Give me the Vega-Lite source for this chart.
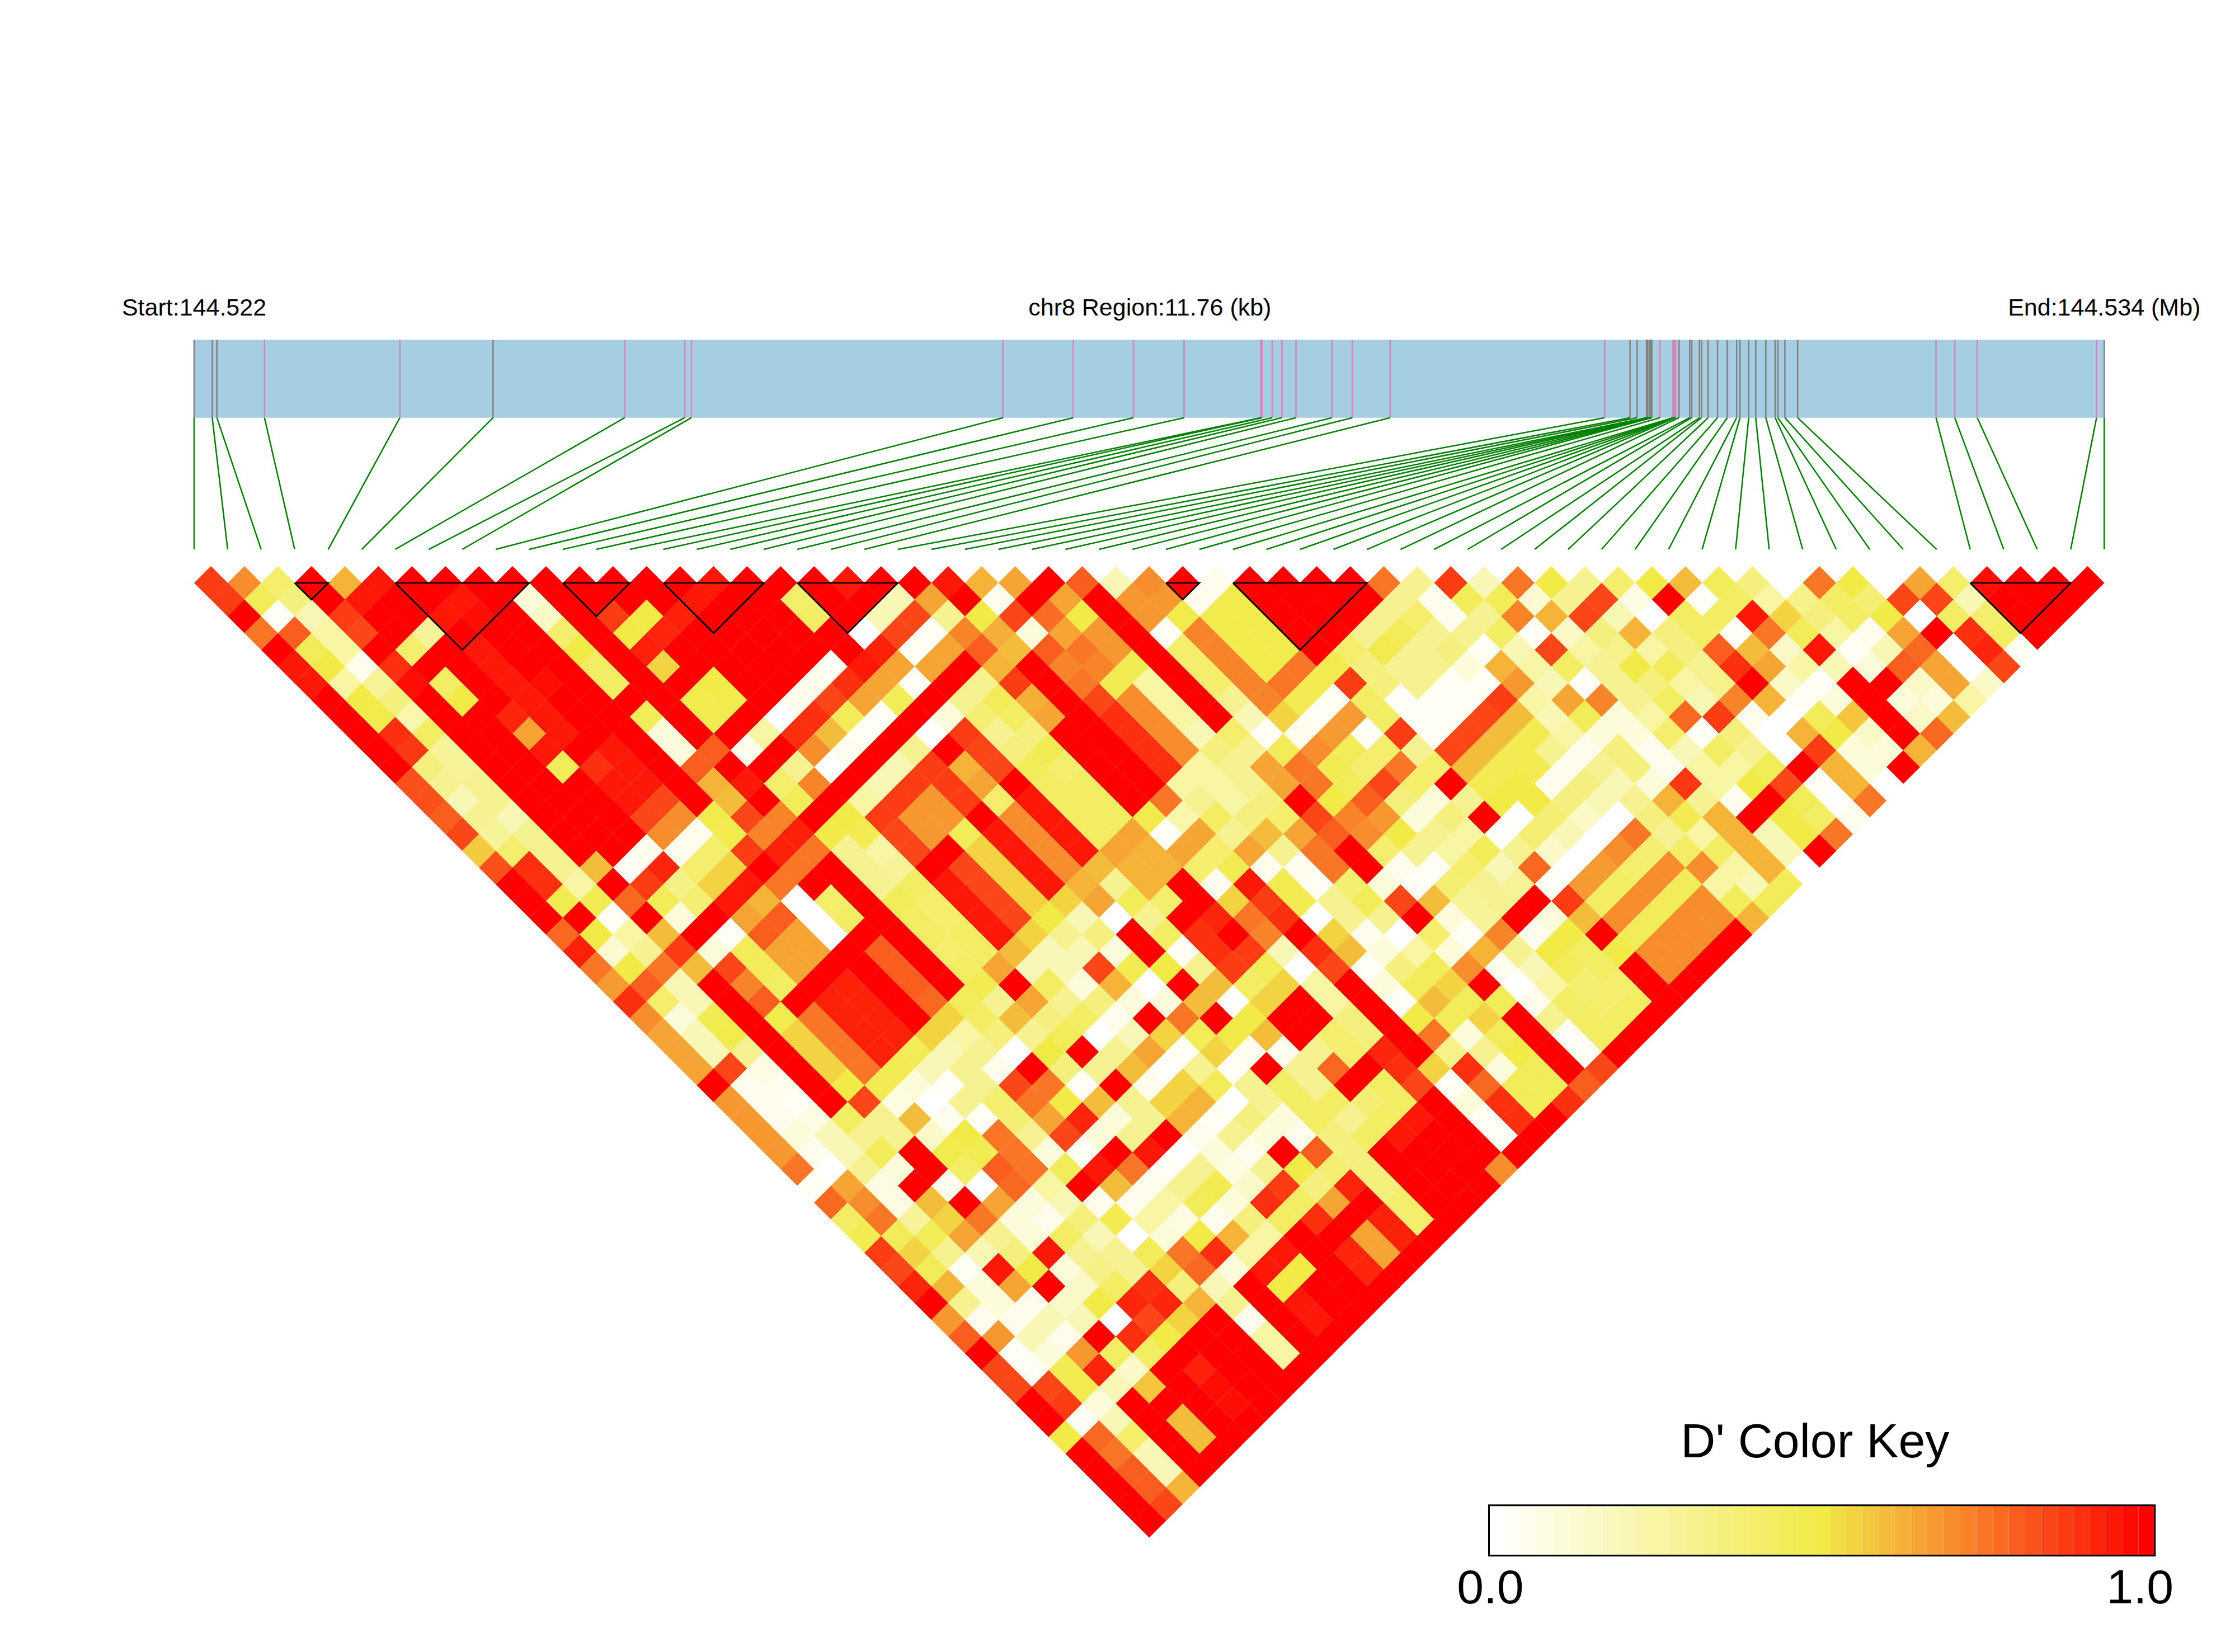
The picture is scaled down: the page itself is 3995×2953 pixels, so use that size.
{"$schema":"https://vega.github.io/schema/vega-lite/v6.json","width":3995,"height":2953,"autosize":{"type":"fit","contains":"padding"},"padding":0,"background":"white","view":{"stroke":null},
"datasets":{
"strip":[{"a":0,"b":57}],
"snps":[{"k":0,"p":0,"t":"g"},{"k":1,"p":0.54,"t":"g"},{"k":2,"p":0.68,"t":"g"},{"k":3,"p":2.1,"t":"p"},{"k":4,"p":6.14,"t":"p"},{"k":5,"p":8.92,"t":"g"},{"k":6,"p":12.85,"t":"p"},{"k":7,"p":14.64,"t":"p"},{"k":8,"p":14.84,"t":"p"},{"k":9,"p":24.14,"t":"p"},{"k":10,"p":26.23,"t":"p"},{"k":11,"p":28.03,"t":"p"},{"k":12,"p":29.54,"t":"p"},{"k":13,"p":31.83,"t":"p"},{"k":14,"p":31.87,"t":"p"},{"k":15,"p":32.17,"t":"p"},{"k":16,"p":32.46,"t":"p"},{"k":17,"p":32.88,"t":"p"},{"k":18,"p":33.95,"t":"p"},{"k":19,"p":34.56,"t":"p"},{"k":20,"p":35.69,"t":"p"},{"k":21,"p":42.09,"t":"p"},{"k":22,"p":42.85,"t":"g"},{"k":23,"p":43.06,"t":"g"},{"k":24,"p":43.34,"t":"g"},{"k":25,"p":43.36,"t":"g"},{"k":26,"p":43.38,"t":"g"},{"k":27,"p":43.44,"t":"g"},{"k":28,"p":43.48,"t":"g"},{"k":29,"p":43.5,"t":"g"},{"k":30,"p":43.74,"t":"p"},{"k":31,"p":44.13,"t":"p"},{"k":32,"p":44.15,"t":"p"},{"k":33,"p":44.17,"t":"p"},{"k":34,"p":44.19,"t":"p"},{"k":35,"p":44.21,"t":"p"},{"k":36,"p":44.31,"t":"g"},{"k":37,"p":44.63,"t":"g"},{"k":38,"p":44.69,"t":"g"},{"k":39,"p":44.92,"t":"g"},{"k":40,"p":44.98,"t":"g"},{"k":41,"p":45.18,"t":"g"},{"k":42,"p":45.46,"t":"g"},{"k":43,"p":45.75,"t":"g"},{"k":44,"p":46.03,"t":"g"},{"k":45,"p":46.13,"t":"g"},{"k":46,"p":46.39,"t":"g"},{"k":47,"p":46.6,"t":"g"},{"k":48,"p":46.9,"t":"g"},{"k":49,"p":47.18,"t":"g"},{"k":50,"p":47.26,"t":"g"},{"k":51,"p":47.47,"t":"g"},{"k":52,"p":47.85,"t":"g"},{"k":53,"p":51.98,"t":"p"},{"k":54,"p":52.54,"t":"p"},{"k":55,"p":53.21,"t":"p"},{"k":56,"p":56.77,"t":"p"},{"k":57,"p":57,"t":"g"}],
"blocks":[{"b":1,"o":1,"x":3,"y":1},{"b":1,"o":2,"x":4,"y":1},{"b":1,"o":3,"x":3.5,"y":2},{"b":1,"o":4,"x":3,"y":1},{"b":2,"o":1,"x":6,"y":1},{"b":2,"o":2,"x":10,"y":1},{"b":2,"o":3,"x":8,"y":5},{"b":2,"o":4,"x":6,"y":1},{"b":3,"o":1,"x":11,"y":1},{"b":3,"o":2,"x":13,"y":1},{"b":3,"o":3,"x":12,"y":3},{"b":3,"o":4,"x":11,"y":1},{"b":4,"o":1,"x":14,"y":1},{"b":4,"o":2,"x":17,"y":1},{"b":4,"o":3,"x":15.5,"y":4},{"b":4,"o":4,"x":14,"y":1},{"b":5,"o":1,"x":18,"y":1},{"b":5,"o":2,"x":21,"y":1},{"b":5,"o":3,"x":19.5,"y":4},{"b":5,"o":4,"x":18,"y":1},{"b":6,"o":1,"x":29,"y":1},{"b":6,"o":2,"x":30,"y":1},{"b":6,"o":3,"x":29.5,"y":2},{"b":6,"o":4,"x":29,"y":1},{"b":7,"o":1,"x":31,"y":1},{"b":7,"o":2,"x":35,"y":1},{"b":7,"o":3,"x":33,"y":5},{"b":7,"o":4,"x":31,"y":1},{"b":8,"o":1,"x":53,"y":1},{"b":8,"o":2,"x":56,"y":1},{"b":8,"o":3,"x":54.5,"y":4},{"b":8,"o":4,"x":53,"y":1}],
"key":[{"a":38.64,"b":39.12,"d":0},{"a":39.12,"b":39.61,"d":0.025},{"a":39.61,"b":40.09,"d":0.05},{"a":40.09,"b":40.58,"d":0.075},{"a":40.58,"b":41.06,"d":0.1},{"a":41.06,"b":41.55,"d":0.125},{"a":41.55,"b":42.03,"d":0.15},{"a":42.03,"b":42.52,"d":0.175},{"a":42.52,"b":43,"d":0.2},{"a":43,"b":43.49,"d":0.225},{"a":43.49,"b":43.97,"d":0.25},{"a":43.97,"b":44.45,"d":0.275},{"a":44.45,"b":44.94,"d":0.3},{"a":44.94,"b":45.42,"d":0.325},{"a":45.42,"b":45.91,"d":0.35},{"a":45.91,"b":46.39,"d":0.375},{"a":46.39,"b":46.88,"d":0.4},{"a":46.88,"b":47.36,"d":0.425},{"a":47.36,"b":47.85,"d":0.45},{"a":47.85,"b":48.33,"d":0.475},{"a":48.33,"b":48.82,"d":0.5},{"a":48.82,"b":49.3,"d":0.525},{"a":49.3,"b":49.78,"d":0.55},{"a":49.78,"b":50.27,"d":0.575},{"a":50.27,"b":50.75,"d":0.6},{"a":50.75,"b":51.24,"d":0.625},{"a":51.24,"b":51.72,"d":0.65},{"a":51.72,"b":52.21,"d":0.675},{"a":52.21,"b":52.69,"d":0.7},{"a":52.69,"b":53.18,"d":0.725},{"a":53.18,"b":53.66,"d":0.75},{"a":53.66,"b":54.15,"d":0.775},{"a":54.15,"b":54.63,"d":0.8},{"a":54.63,"b":55.12,"d":0.825},{"a":55.12,"b":55.6,"d":0.85},{"a":55.6,"b":56.08,"d":0.875},{"a":56.08,"b":56.57,"d":0.9},{"a":56.57,"b":57.05,"d":0.925},{"a":57.05,"b":57.54,"d":0.95},{"a":57.54,"b":58.02,"d":0.975},{"a":58.02,"b":58.51,"d":1}],
"small":[{"x":0,"y":-14.97,"t":"Start:144.522"},{"x":28.52,"y":-14.97,"t":"chr8 Region:11.76 (kb)"},{"x":57,"y":-14.97,"t":"End:144.534 (Mb)"}],
"big":[{"x":48.37,"y":53.2,"t":"D' Color Key"},{"x":38.68,"y":61.92,"t":"0.0"},{"x":58.07,"y":61.92,"t":"1.0"}],
"cells":[
{"m":0.5,"l":1,"d":0.87},{"m":1.5,"l":1,"d":0.7},{"m":2.5,"l":1,"d":0.4},{"m":3.5,"l":1,"d":1},{"m":4.5,"l":1,"d":0.62},{"m":5.5,"l":1,"d":0.95},{"m":6.5,"l":1,"d":1},{"m":7.5,"l":1,"d":1},{"m":8.5,"l":1,"d":1},{"m":9.5,"l":1,"d":1},{"m":10.5,"l":1,"d":1},{"m":11.5,"l":1,"d":1},{"m":12.5,"l":1,"d":1},{"m":13.5,"l":1,"d":1},{"m":14.5,"l":1,"d":1},{"m":15.5,"l":1,"d":0.95},{"m":16.5,"l":1,"d":1},{"m":17.5,"l":1,"d":1},{"m":18.5,"l":1,"d":1},{"m":19.5,"l":1,"d":0.95},{"m":20.5,"l":1,"d":1},{"m":21.5,"l":1,"d":1},{"m":22.5,"l":1,"d":0.95},{"m":23.5,"l":1,"d":0.62},{"m":24.5,"l":1,"d":0.65},{"m":25.5,"l":1,"d":1},{"m":26.5,"l":1,"d":0.8},{"m":27.5,"l":1,"d":0.2},{"m":28.5,"l":1,"d":0.7},{"m":29.5,"l":1,"d":1},{"m":30.5,"l":1,"d":0.05},{"m":31.5,"l":1,"d":1},{"m":32.5,"l":1,"d":1},{"m":33.5,"l":1,"d":1},{"m":34.5,"l":1,"d":1},{"m":35.5,"l":1,"d":0.75},{"m":36.5,"l":1,"d":0.3},{"m":37.5,"l":1,"d":0.87},{"m":38.5,"l":1,"d":0.2},{"m":39.5,"l":1,"d":0.75},{"m":40.5,"l":1,"d":0.5},{"m":41.5,"l":1,"d":0.3},{"m":42.5,"l":1,"d":0.4},{"m":43.5,"l":1,"d":0.5},{"m":44.5,"l":1,"d":0.6},{"m":45.5,"l":1,"d":0.45},{"m":46.5,"l":1,"d":0.35},{"m":47.5,"l":1,"d":0},{"m":48.5,"l":1,"d":0.75},{"m":49.5,"l":1,"d":0.5},{"m":50.5,"l":1,"d":0},{"m":51.5,"l":1,"d":0.65},{"m":52.5,"l":1,"d":0.4},{"m":53.5,"l":1,"d":0.97},{"m":54.5,"l":1,"d":1},{"m":55.5,"l":1,"d":1},{"m":56.5,"l":1,"d":1},
{"m":1,"l":2,"d":0.87},{"m":2,"l":2,"d":0.45},{"m":3,"l":2,"d":0.35},{"m":4,"l":2,"d":1},{"m":5,"l":2,"d":0.95},{"m":6,"l":2,"d":1},{"m":7,"l":2,"d":1},{"m":8,"l":2,"d":0.95},{"m":9,"l":2,"d":1},{"m":10,"l":2,"d":0.1},{"m":11,"l":2,"d":1},{"m":12,"l":2,"d":1},{"m":13,"l":2,"d":1},{"m":14,"l":2,"d":1},{"m":15,"l":2,"d":0.95},{"m":16,"l":2,"d":1},{"m":17,"l":2,"d":1},{"m":18,"l":2,"d":0.4},{"m":19,"l":2,"d":1},{"m":20,"l":2,"d":1},{"m":21,"l":2,"d":0.2},{"m":22,"l":2,"d":0.65},{"m":23,"l":2,"d":1},{"m":24,"l":2,"d":0.05},{"m":25,"l":2,"d":1},{"m":26,"l":2,"d":0.65},{"m":27,"l":2,"d":1},{"m":28,"l":2,"d":0.68},{"m":29,"l":2,"d":0.68},{"m":30,"l":2,"d":0.05},{"m":31,"l":2,"d":0.48},{"m":32,"l":2,"d":1},{"m":33,"l":2,"d":1},{"m":34,"l":2,"d":1},{"m":35,"l":2,"d":1},{"m":36,"l":2,"d":0.3},{"m":37,"l":2,"d":0.05},{"m":38,"l":2,"d":0.45},{"m":39,"l":2,"d":0.45},{"m":40,"l":2,"d":0.12},{"m":41,"l":2,"d":0.3},{"m":42,"l":2,"d":0.85},{"m":43,"l":2,"d":0.08},{"m":44,"l":2,"d":1},{"m":45,"l":2,"d":0.03},{"m":46,"l":2,"d":0.42},{"m":47,"l":2,"d":0.25},{"m":48,"l":2,"d":0.32},{"m":49,"l":2,"d":0.42},{"m":50,"l":2,"d":0.38},{"m":51,"l":2,"d":0.85},{"m":52,"l":2,"d":0.85},{"m":53,"l":2,"d":0.2},{"m":54,"l":2,"d":1},{"m":55,"l":2,"d":1},{"m":56,"l":2,"d":1},
{"m":1.5,"l":3,"d":1},{"m":2.5,"l":3,"d":0.03},{"m":3.5,"l":3,"d":0.2},{"m":4.5,"l":3,"d":0.87},{"m":5.5,"l":3,"d":1},{"m":6.5,"l":3,"d":1},{"m":7.5,"l":3,"d":0.95},{"m":8.5,"l":3,"d":0.97},{"m":9.5,"l":3,"d":1},{"m":10.5,"l":3,"d":0.15},{"m":11.5,"l":3,"d":1},{"m":12.5,"l":3,"d":0.87},{"m":13.5,"l":3,"d":0.5},{"m":14.5,"l":3,"d":0.93},{"m":15.5,"l":3,"d":1},{"m":16.5,"l":3,"d":1},{"m":17.5,"l":3,"d":1},{"m":18.5,"l":3,"d":0.42},{"m":19.5,"l":3,"d":1},{"m":20.5,"l":3,"d":0.2},{"m":21.5,"l":3,"d":0.85},{"m":22.5,"l":3,"d":0.3},{"m":23.5,"l":3,"d":0.5},{"m":24.5,"l":3,"d":0.85},{"m":25.5,"l":3,"d":0.77},{"m":26.5,"l":3,"d":0.5},{"m":27.5,"l":3,"d":1},{"m":28.5,"l":3,"d":0.68},{"m":29.5,"l":3,"d":0.48},{"m":30.5,"l":3,"d":0.48},{"m":31.5,"l":3,"d":0.48},{"m":32.5,"l":3,"d":1},{"m":33.5,"l":3,"d":1},{"m":34.5,"l":3,"d":1},{"m":35.5,"l":3,"d":0.3},{"m":36.5,"l":3,"d":0.4},{"m":37.5,"l":3,"d":0.05},{"m":38.5,"l":3,"d":0.3},{"m":39.5,"l":3,"d":0.72},{"m":40.5,"l":3,"d":0.62},{"m":41.5,"l":3,"d":0.85},{"m":42.5,"l":3,"d":0.2},{"m":43.5,"l":3,"d":0},{"m":44.5,"l":3,"d":0.42},{"m":45.5,"l":3,"d":0.42},{"m":46.5,"l":3,"d":0.95},{"m":47.5,"l":3,"d":0.55},{"m":48.5,"l":3,"d":0.35},{"m":49.5,"l":3,"d":0.42},{"m":50.5,"l":3,"d":0.5},{"m":51.5,"l":3,"d":0},{"m":52.5,"l":3,"d":0.42},{"m":53.5,"l":3,"d":0.4},{"m":54.5,"l":3,"d":1},{"m":55.5,"l":3,"d":1},
{"m":2,"l":4,"d":0.75},{"m":3,"l":4,"d":0.8},{"m":4,"l":4,"d":0.25},{"m":5,"l":4,"d":0.85},{"m":6,"l":4,"d":1},{"m":7,"l":4,"d":0.28},{"m":8,"l":4,"d":1},{"m":9,"l":4,"d":1},{"m":10,"l":4,"d":1},{"m":11,"l":4,"d":0.4},{"m":12,"l":4,"d":1},{"m":13,"l":4,"d":0.5},{"m":14,"l":4,"d":0.92},{"m":15,"l":4,"d":1},{"m":16,"l":4,"d":1},{"m":17,"l":4,"d":1},{"m":18,"l":4,"d":1},{"m":19,"l":4,"d":1},{"m":20,"l":4,"d":0},{"m":21,"l":4,"d":0.85},{"m":22,"l":4,"d":0.03},{"m":23,"l":4,"d":0.72},{"m":24,"l":4,"d":0.63},{"m":25,"l":4,"d":0.1},{"m":26,"l":4,"d":0.65},{"m":27,"l":4,"d":0.68},{"m":28,"l":4,"d":1},{"m":29,"l":4,"d":0.03},{"m":30,"l":4,"d":0.72},{"m":31,"l":4,"d":0.48},{"m":32,"l":4,"d":0.48},{"m":33,"l":4,"d":1},{"m":34,"l":4,"d":1},{"m":35,"l":4,"d":0.3},{"m":36,"l":4,"d":0.45},{"m":37,"l":4,"d":0.3},{"m":38,"l":4,"d":0.3},{"m":39,"l":4,"d":0.42},{"m":40,"l":4,"d":0.03},{"m":41,"l":4,"d":0.15},{"m":42,"l":4,"d":0.35},{"m":43,"l":4,"d":0.62},{"m":44,"l":4,"d":0.35},{"m":45,"l":4,"d":0.42},{"m":46,"l":4,"d":0.03},{"m":47,"l":4,"d":0.75},{"m":48,"l":4,"d":0.45},{"m":49,"l":4,"d":0.25},{"m":50,"l":4,"d":0.05},{"m":51,"l":4,"d":0.65},{"m":52,"l":4,"d":1},{"m":53,"l":4,"d":0.9},{"m":54,"l":4,"d":0.42},{"m":55,"l":4,"d":1},
{"m":2.5,"l":5,"d":1},{"m":3.5,"l":5,"d":0.45},{"m":4.5,"l":5,"d":0.25},{"m":5.5,"l":5,"d":1},{"m":6.5,"l":5,"d":0.4},{"m":7.5,"l":5,"d":1},{"m":8.5,"l":5,"d":0.95},{"m":9.5,"l":5,"d":1},{"m":10.5,"l":5,"d":1},{"m":11.5,"l":5,"d":0.5},{"m":12.5,"l":5,"d":1},{"m":13.5,"l":5,"d":0.93},{"m":14.5,"l":5,"d":1},{"m":15.5,"l":5,"d":1},{"m":16.5,"l":5,"d":1},{"m":17.5,"l":5,"d":1},{"m":18.5,"l":5,"d":1},{"m":19.5,"l":5,"d":1},{"m":20.5,"l":5,"d":0.93},{"m":21.5,"l":5,"d":0.03},{"m":22.5,"l":5,"d":0.65},{"m":23.5,"l":5,"d":0.8},{"m":24.5,"l":5,"d":0.6},{"m":25.5,"l":5,"d":0.8},{"m":26.5,"l":5,"d":0.75},{"m":27.5,"l":5,"d":0.68},{"m":28.5,"l":5,"d":1},{"m":29.5,"l":5,"d":0.4},{"m":30.5,"l":5,"d":0.72},{"m":31.5,"l":5,"d":0.48},{"m":32.5,"l":5,"d":0.48},{"m":33.5,"l":5,"d":1},{"m":34.5,"l":5,"d":0.4},{"m":35.5,"l":5,"d":0.48},{"m":36.5,"l":5,"d":0.3},{"m":37.5,"l":5,"d":0.35},{"m":38.5,"l":5,"d":0.03},{"m":39.5,"l":5,"d":0.2},{"m":40.5,"l":5,"d":0.85},{"m":41.5,"l":5,"d":0.25},{"m":42.5,"l":5,"d":0.32},{"m":43.5,"l":5,"d":0.25},{"m":44.5,"l":5,"d":0.35},{"m":45.5,"l":5,"d":0.8},{"m":46.5,"l":5,"d":0.6},{"m":47.5,"l":5,"d":0.15},{"m":48.5,"l":5,"d":0.95},{"m":49.5,"l":5,"d":0.03},{"m":50.5,"l":5,"d":0.2},{"m":51.5,"l":5,"d":0.78},{"m":52.5,"l":5,"d":0},{"m":53.5,"l":5,"d":0.92},{"m":54.5,"l":5,"d":0.03},
{"m":3,"l":6,"d":0.95},{"m":4,"l":6,"d":0.5},{"m":5,"l":6,"d":0.05},{"m":6,"l":6,"d":0.9},{"m":7,"l":6,"d":1},{"m":8,"l":6,"d":1},{"m":9,"l":6,"d":0.95},{"m":10,"l":6,"d":1},{"m":11,"l":6,"d":1},{"m":12,"l":6,"d":0.42},{"m":13,"l":6,"d":1},{"m":14,"l":6,"d":0.55},{"m":15,"l":6,"d":1},{"m":16,"l":6,"d":1},{"m":17,"l":6,"d":1},{"m":18,"l":6,"d":1},{"m":19,"l":6,"d":0.03},{"m":20,"l":6,"d":0.95},{"m":21,"l":6,"d":0.65},{"m":22,"l":6,"d":0.65},{"m":23,"l":6,"d":1},{"m":24,"l":6,"d":0.62},{"m":25,"l":6,"d":1},{"m":26,"l":6,"d":0.72},{"m":27,"l":6,"d":0.72},{"m":28,"l":6,"d":0.47},{"m":29,"l":6,"d":1},{"m":30,"l":6,"d":0.4},{"m":31,"l":6,"d":0.72},{"m":32,"l":6,"d":0.48},{"m":33,"l":6,"d":0.75},{"m":34,"l":6,"d":0.48},{"m":35,"l":6,"d":0.35},{"m":36,"l":6,"d":0.3},{"m":37,"l":6,"d":0.3},{"m":38,"l":6,"d":0.1},{"m":39,"l":6,"d":0.62},{"m":40,"l":6,"d":0.25},{"m":41,"l":6,"d":0.42},{"m":42,"l":6,"d":0.3},{"m":43,"l":6,"d":0.5},{"m":44,"l":6,"d":0.45},{"m":45,"l":6,"d":0.3},{"m":46,"l":6,"d":0.9},{"m":47,"l":6,"d":0.65},{"m":48,"l":6,"d":0.25},{"m":49,"l":6,"d":0.2},{"m":50,"l":6,"d":0.1},{"m":51,"l":6,"d":0.8},{"m":52,"l":6,"d":0.65},{"m":53,"l":6,"d":0},{"m":54,"l":6,"d":0.85},
{"m":3.5,"l":7,"d":0.95},{"m":4.5,"l":7,"d":0.25},{"m":5.5,"l":7,"d":0.28},{"m":6.5,"l":7,"d":0.97},{"m":7.5,"l":7,"d":0.42},{"m":8.5,"l":7,"d":1},{"m":9.5,"l":7,"d":0.95},{"m":10.5,"l":7,"d":0.97},{"m":11.5,"l":7,"d":1},{"m":12.5,"l":7,"d":0.42},{"m":13.5,"l":7,"d":1},{"m":14.5,"l":7,"d":1},{"m":15.5,"l":7,"d":0.5},{"m":16.5,"l":7,"d":1},{"m":17.5,"l":7,"d":1},{"m":18.5,"l":7,"d":0.05},{"m":19.5,"l":7,"d":0.9},{"m":20.5,"l":7,"d":0.65},{"m":21.5,"l":7,"d":0.03},{"m":22.5,"l":7,"d":1},{"m":23.5,"l":7,"d":0.3},{"m":24.5,"l":7,"d":0.87},{"m":25.5,"l":7,"d":1},{"m":26.5,"l":7,"d":0.75},{"m":27.5,"l":7,"d":0.47},{"m":28.5,"l":7,"d":0.25},{"m":29.5,"l":7,"d":1},{"m":30.5,"l":7,"d":0.4},{"m":31.5,"l":7,"d":0.72},{"m":32.5,"l":7,"d":0.75},{"m":33.5,"l":7,"d":0.47},{"m":34.5,"l":7,"d":0.87},{"m":35.5,"l":7,"d":0.35},{"m":36.5,"l":7,"d":0.3},{"m":37.5,"l":7,"d":0.03},{"m":38.5,"l":7,"d":0.03},{"m":39.5,"l":7,"d":0.68},{"m":40.5,"l":7,"d":0.2},{"m":41.5,"l":7,"d":0.03},{"m":42.5,"l":7,"d":0.3},{"m":43.5,"l":7,"d":0.35},{"m":44.5,"l":7,"d":0.25},{"m":45.5,"l":7,"d":0.32},{"m":46.5,"l":7,"d":1},{"m":47.5,"l":7,"d":0.15},{"m":48.5,"l":7,"d":0.03},{"m":49.5,"l":7,"d":1},{"m":50.5,"l":7,"d":1},{"m":51.5,"l":7,"d":0.15},{"m":52.5,"l":7,"d":0.65},{"m":53.5,"l":7,"d":0.15},
{"m":4,"l":8,"d":1},{"m":5,"l":8,"d":0.5},{"m":6,"l":8,"d":0.35},{"m":7,"l":8,"d":1},{"m":8,"l":8,"d":0.5},{"m":9,"l":8,"d":1},{"m":10,"l":8,"d":0.95},{"m":11,"l":8,"d":1},{"m":12,"l":8,"d":1},{"m":13,"l":8,"d":1},{"m":14,"l":8,"d":1},{"m":15,"l":8,"d":0.48},{"m":16,"l":8,"d":0.48},{"m":17,"l":8,"d":1},{"m":18,"l":8,"d":0.05},{"m":19,"l":8,"d":0.85},{"m":20,"l":8,"d":0.65},{"m":21,"l":8,"d":0.45},{"m":22,"l":8,"d":1},{"m":23,"l":8,"d":0.3},{"m":24,"l":8,"d":0.45},{"m":25,"l":8,"d":0.63},{"m":26,"l":8,"d":1},{"m":27,"l":8,"d":0.85},{"m":28,"l":8,"d":0.7},{"m":29,"l":8,"d":0.25},{"m":30,"l":8,"d":1},{"m":31,"l":8,"d":0.3},{"m":32,"l":8,"d":0.72},{"m":33,"l":8,"d":0.47},{"m":34,"l":8,"d":0.03},{"m":35,"l":8,"d":0.42},{"m":36,"l":8,"d":0.03},{"m":37,"l":8,"d":0.03},{"m":38,"l":8,"d":0.03},{"m":39,"l":8,"d":0.87},{"m":40,"l":8,"d":0.25},{"m":41,"l":8,"d":0.65},{"m":42,"l":8,"d":0.72},{"m":43,"l":8,"d":0.3},{"m":44,"l":8,"d":0.42},{"m":45,"l":8,"d":0.2},{"m":46,"l":8,"d":0.72},{"m":47,"l":8,"d":0.62},{"m":48,"l":8,"d":0.03},{"m":49,"l":8,"d":0.1},{"m":50,"l":8,"d":1},{"m":51,"l":8,"d":0.1},{"m":52,"l":8,"d":0.1},{"m":53,"l":8,"d":0.25},
{"m":4.5,"l":9,"d":1},{"m":5.5,"l":9,"d":0.48},{"m":6.5,"l":9,"d":0.22},{"m":7.5,"l":9,"d":1},{"m":8.5,"l":9,"d":1},{"m":9.5,"l":9,"d":0.92},{"m":10.5,"l":9,"d":0.95},{"m":11.5,"l":9,"d":1},{"m":12.5,"l":9,"d":1},{"m":13.5,"l":9,"d":0.45},{"m":14.5,"l":9,"d":1},{"m":15.5,"l":9,"d":0.47},{"m":16.5,"l":9,"d":1},{"m":17.5,"l":9,"d":0},{"m":18.5,"l":9,"d":0.9},{"m":19.5,"l":9,"d":0.45},{"m":20.5,"l":9,"d":0.03},{"m":21.5,"l":9,"d":1},{"m":22.5,"l":9,"d":0.1},{"m":23.5,"l":9,"d":0.38},{"m":24.5,"l":9,"d":0.42},{"m":25.5,"l":9,"d":0.65},{"m":26.5,"l":9,"d":1},{"m":27.5,"l":9,"d":0.9},{"m":28.5,"l":9,"d":0.7},{"m":29.5,"l":9,"d":0.25},{"m":30.5,"l":9,"d":1},{"m":31.5,"l":9,"d":0.2},{"m":32.5,"l":9,"d":0.55},{"m":33.5,"l":9,"d":0.03},{"m":34.5,"l":9,"d":0.67},{"m":35.5,"l":9,"d":0.42},{"m":36.5,"l":9,"d":0.03},{"m":37.5,"l":9,"d":0.03},{"m":38.5,"l":9,"d":0.85},{"m":39.5,"l":9,"d":0.6},{"m":40.5,"l":9,"d":0.2},{"m":41.5,"l":9,"d":0.45},{"m":42.5,"l":9,"d":0.1},{"m":43.5,"l":9,"d":0.25},{"m":44.5,"l":9,"d":0.78},{"m":45.5,"l":9,"d":0.87},{"m":46.5,"l":9,"d":0.05},{"m":47.5,"l":9,"d":0},{"m":48.5,"l":9,"d":0.45},{"m":49.5,"l":9,"d":0.58},{"m":50.5,"l":9,"d":1},{"m":51.5,"l":9,"d":0.15},{"m":52.5,"l":9,"d":0.6},
{"m":5,"l":10,"d":1},{"m":6,"l":10,"d":0.9},{"m":7,"l":10,"d":0.42},{"m":8,"l":10,"d":1},{"m":9,"l":10,"d":1},{"m":10,"l":10,"d":0.65},{"m":11,"l":10,"d":0.95},{"m":12,"l":10,"d":1},{"m":13,"l":10,"d":1},{"m":14,"l":10,"d":0.1},{"m":15,"l":10,"d":1},{"m":16,"l":10,"d":1},{"m":17,"l":10,"d":0.25},{"m":18,"l":10,"d":0.9},{"m":19,"l":10,"d":0.6},{"m":20,"l":10,"d":0.03},{"m":21,"l":10,"d":1},{"m":22,"l":10,"d":0},{"m":23,"l":10,"d":0.87},{"m":24,"l":10,"d":0.3},{"m":25,"l":10,"d":0.35},{"m":26,"l":10,"d":1},{"m":27,"l":10,"d":1},{"m":28,"l":10,"d":0.9},{"m":29,"l":10,"d":0.7},{"m":30,"l":10,"d":0.2},{"m":31,"l":10,"d":0.4},{"m":32,"l":10,"d":0.03},{"m":33,"l":10,"d":0.05},{"m":34,"l":10,"d":0.67},{"m":35,"l":10,"d":0.03},{"m":36,"l":10,"d":0.87},{"m":37,"l":10,"d":0.03},{"m":38,"l":10,"d":0.85},{"m":39,"l":10,"d":0.6},{"m":40,"l":10,"d":0.47},{"m":41,"l":10,"d":0.25},{"m":42,"l":10,"d":0.1},{"m":43,"l":10,"d":0.1},{"m":44,"l":10,"d":0.4},{"m":45,"l":10,"d":0.03},{"m":46,"l":10,"d":0.35},{"m":47,"l":10,"d":0},{"m":48,"l":10,"d":0.62},{"m":49,"l":10,"d":0.5},{"m":50,"l":10,"d":0.15},{"m":51,"l":10,"d":1},{"m":52,"l":10,"d":0.78},
{"m":5.5,"l":11,"d":1},{"m":6.5,"l":11,"d":0.88},{"m":7.5,"l":11,"d":0.28},{"m":8.5,"l":11,"d":1},{"m":9.5,"l":11,"d":1},{"m":10.5,"l":11,"d":0.95},{"m":11.5,"l":11,"d":1},{"m":12.5,"l":11,"d":0.95},{"m":13.5,"l":11,"d":1},{"m":14.5,"l":11,"d":0.1},{"m":15.5,"l":11,"d":0.8},{"m":16.5,"l":11,"d":0.05},{"m":17.5,"l":11,"d":1},{"m":18.5,"l":11,"d":0.7},{"m":19.5,"l":11,"d":0.05},{"m":20.5,"l":11,"d":1},{"m":21.5,"l":11,"d":0.3},{"m":22.5,"l":11,"d":1},{"m":23.5,"l":11,"d":0.85},{"m":24.5,"l":11,"d":0.35},{"m":25.5,"l":11,"d":0.47},{"m":26.5,"l":11,"d":1},{"m":27.5,"l":11,"d":1},{"m":28.5,"l":11,"d":0.9},{"m":29.5,"l":11,"d":0.7},{"m":30.5,"l":11,"d":0.35},{"m":31.5,"l":11,"d":0.3},{"m":32.5,"l":11,"d":0.45},{"m":33.5,"l":11,"d":0.7},{"m":34.5,"l":11,"d":0.45},{"m":35.5,"l":11,"d":0.4},{"m":36.5,"l":11,"d":0.3},{"m":37.5,"l":11,"d":0.85},{"m":38.5,"l":11,"d":0.6},{"m":39.5,"l":11,"d":0.47},{"m":40.5,"l":11,"d":0.3},{"m":41.5,"l":11,"d":0.05},{"m":42.5,"l":11,"d":0.35},{"m":43.5,"l":11,"d":0.05},{"m":44.5,"l":11,"d":0.2},{"m":45.5,"l":11,"d":0.42},{"m":46.5,"l":11,"d":0.3},{"m":47.5,"l":11,"d":0},{"m":48.5,"l":11,"d":0.87},{"m":49.5,"l":11,"d":0.1},{"m":50.5,"l":11,"d":0.1},{"m":51.5,"l":11,"d":0.62},
{"m":6,"l":12,"d":1},{"m":7,"l":12,"d":0.35},{"m":8,"l":12,"d":0.28},{"m":9,"l":12,"d":1},{"m":10,"l":12,"d":1},{"m":11,"l":12,"d":0.45},{"m":12,"l":12,"d":0.9},{"m":13,"l":12,"d":0.95},{"m":14,"l":12,"d":1},{"m":15,"l":12,"d":0.8},{"m":16,"l":12,"d":1},{"m":17,"l":12,"d":1},{"m":18,"l":12,"d":0.3},{"m":19,"l":12,"d":0},{"m":20,"l":12,"d":1},{"m":21,"l":12,"d":0.2},{"m":22,"l":12,"d":0.87},{"m":23,"l":12,"d":0.62},{"m":24,"l":12,"d":0.85},{"m":25,"l":12,"d":0.45},{"m":26,"l":12,"d":0.4},{"m":27,"l":12,"d":1},{"m":28,"l":12,"d":1},{"m":29,"l":12,"d":0.9},{"m":30,"l":12,"d":0.25},{"m":31,"l":12,"d":0.3},{"m":32,"l":12,"d":0.65},{"m":33,"l":12,"d":0.75},{"m":34,"l":12,"d":0.47},{"m":35,"l":12,"d":0.4},{"m":36,"l":12,"d":0.75},{"m":37,"l":12,"d":0.4},{"m":38,"l":12,"d":0.6},{"m":39,"l":12,"d":0.47},{"m":40,"l":12,"d":0.47},{"m":41,"l":12,"d":0.05},{"m":42,"l":12,"d":0.3},{"m":43,"l":12,"d":0.35},{"m":44,"l":12,"d":0.05},{"m":45,"l":12,"d":0.25},{"m":46,"l":12,"d":0.25},{"m":47,"l":12,"d":0.45},{"m":48,"l":12,"d":1},{"m":49,"l":12,"d":0.62},{"m":50,"l":12,"d":0.1},{"m":51,"l":12,"d":1},
{"m":6.5,"l":13,"d":0.83},{"m":7.5,"l":13,"d":0.3},{"m":8.5,"l":13,"d":0.3},{"m":9.5,"l":13,"d":1},{"m":10.5,"l":13,"d":1},{"m":11.5,"l":13,"d":1},{"m":12.5,"l":13,"d":0.95},{"m":13.5,"l":13,"d":0.95},{"m":14.5,"l":13,"d":1},{"m":15.5,"l":13,"d":0.62},{"m":16.5,"l":13,"d":0.95},{"m":17.5,"l":13,"d":0.4},{"m":18.5,"l":13,"d":0.72},{"m":19.5,"l":13,"d":1},{"m":20.5,"l":13,"d":0.2},{"m":21.5,"l":13,"d":0.87},{"m":22.5,"l":13,"d":0.87},{"m":23.5,"l":13,"d":0.65},{"m":24.5,"l":13,"d":1},{"m":25.5,"l":13,"d":0.42},{"m":26.5,"l":13,"d":0.42},{"m":27.5,"l":13,"d":1},{"m":28.5,"l":13,"d":1},{"m":29.5,"l":13,"d":0.25},{"m":30.5,"l":13,"d":0.25},{"m":31.5,"l":13,"d":0.3},{"m":32.5,"l":13,"d":0.65},{"m":33.5,"l":13,"d":0.75},{"m":34.5,"l":13,"d":0.45},{"m":35.5,"l":13,"d":0.85},{"m":36.5,"l":13,"d":0.4},{"m":37.5,"l":13,"d":1},{"m":38.5,"l":13,"d":0.47},{"m":39.5,"l":13,"d":0.5},{"m":40.5,"l":13,"d":0.05},{"m":41.5,"l":13,"d":0.35},{"m":42.5,"l":13,"d":0.2},{"m":43.5,"l":13,"d":0.1},{"m":44.5,"l":13,"d":0.88},{"m":45.5,"l":13,"d":0.25},{"m":46.5,"l":13,"d":0.5},{"m":47.5,"l":13,"d":0.85},{"m":48.5,"l":13,"d":0.03},{"m":49.5,"l":13,"d":0.62},{"m":50.5,"l":13,"d":0},
{"m":7,"l":14,"d":0.83},{"m":8,"l":14,"d":0.2},{"m":9,"l":14,"d":0.3},{"m":10,"l":14,"d":1},{"m":11,"l":14,"d":1},{"m":12,"l":14,"d":1},{"m":13,"l":14,"d":0.95},{"m":14,"l":14,"d":0.85},{"m":15,"l":14,"d":1},{"m":16,"l":14,"d":0.6},{"m":17,"l":14,"d":1},{"m":18,"l":14,"d":0.45},{"m":19,"l":14,"d":1},{"m":20,"l":14,"d":0.25},{"m":21,"l":14,"d":0.87},{"m":22,"l":14,"d":0.68},{"m":23,"l":14,"d":0.87},{"m":24,"l":14,"d":0.4},{"m":25,"l":14,"d":0.95},{"m":26,"l":14,"d":0.42},{"m":27,"l":14,"d":0.42},{"m":28,"l":14,"d":1},{"m":29,"l":14,"d":0.75},{"m":30,"l":14,"d":0.3},{"m":31,"l":14,"d":0.25},{"m":32,"l":14,"d":0.35},{"m":33,"l":14,"d":1},{"m":34,"l":14,"d":0.5},{"m":35,"l":14,"d":0.8},{"m":36,"l":14,"d":0.35},{"m":37,"l":14,"d":0.1},{"m":38,"l":14,"d":0.3},{"m":39,"l":14,"d":0.5},{"m":40,"l":14,"d":0.5},{"m":41,"l":14,"d":0.35},{"m":42,"l":14,"d":0.2},{"m":43,"l":14,"d":0.3},{"m":44,"l":14,"d":0.62},{"m":45,"l":14,"d":0.3},{"m":46,"l":14,"d":0.05},{"m":47,"l":14,"d":1},{"m":48,"l":14,"d":0.45},{"m":49,"l":14,"d":0},{"m":50,"l":14,"d":0.75},
{"m":7.5,"l":15,"d":0.8},{"m":8.5,"l":15,"d":0.3},{"m":9.5,"l":15,"d":0.2},{"m":10.5,"l":15,"d":1},{"m":11.5,"l":15,"d":1},{"m":12.5,"l":15,"d":1},{"m":13.5,"l":15,"d":0.85},{"m":14.5,"l":15,"d":0.7},{"m":15.5,"l":15,"d":0.48},{"m":16.5,"l":15,"d":0.85},{"m":17.5,"l":15,"d":0.72},{"m":18.5,"l":15,"d":1},{"m":19.5,"l":15,"d":0.5},{"m":20.5,"l":15,"d":0.87},{"m":21.5,"l":15,"d":0.68},{"m":22.5,"l":15,"d":0.68},{"m":23.5,"l":15,"d":1},{"m":24.5,"l":15,"d":0.7},{"m":25.5,"l":15,"d":0.95},{"m":26.5,"l":15,"d":0.42},{"m":27.5,"l":15,"d":0.42},{"m":28.5,"l":15,"d":0.48},{"m":29.5,"l":15,"d":0.22},{"m":30.5,"l":15,"d":0.42},{"m":31.5,"l":15,"d":0.35},{"m":32.5,"l":15,"d":0.4},{"m":33.5,"l":15,"d":0.85},{"m":34.5,"l":15,"d":0.72},{"m":35.5,"l":15,"d":0.68},{"m":36.5,"l":15,"d":0.1},{"m":37.5,"l":15,"d":0.35},{"m":38.5,"l":15,"d":1},{"m":39.5,"l":15,"d":0},{"m":40.5,"l":15,"d":0.38},{"m":41.5,"l":15,"d":0.15},{"m":42.5,"l":15,"d":0},{"m":43.5,"l":15,"d":0.35},{"m":44.5,"l":15,"d":0.47},{"m":45.5,"l":15,"d":0.62},{"m":46.5,"l":15,"d":1},{"m":47.5,"l":15,"d":0.5},{"m":48.5,"l":15,"d":0.42},{"m":49.5,"l":15,"d":0.05},
{"m":8,"l":16,"d":0.85},{"m":9,"l":16,"d":0.28},{"m":10,"l":16,"d":0.3},{"m":11,"l":16,"d":1},{"m":12,"l":16,"d":1},{"m":13,"l":16,"d":1},{"m":14,"l":16,"d":0.7},{"m":15,"l":16,"d":0.05},{"m":16,"l":16,"d":0.48},{"m":17,"l":16,"d":0.72},{"m":18,"l":16,"d":0.93},{"m":19,"l":16,"d":0.5},{"m":20,"l":16,"d":0.47},{"m":21,"l":16,"d":0.85},{"m":22,"l":16,"d":0.68},{"m":23,"l":16,"d":0.45},{"m":24,"l":16,"d":0.95},{"m":25,"l":16,"d":0.7},{"m":26,"l":16,"d":0.95},{"m":27,"l":16,"d":0.42},{"m":28,"l":16,"d":0.65},{"m":29,"l":16,"d":0.03},{"m":30,"l":16,"d":0.65},{"m":31,"l":16,"d":0.3},{"m":32,"l":16,"d":0.6},{"m":33,"l":16,"d":0.65},{"m":34,"l":16,"d":0.8},{"m":35,"l":16,"d":0.7},{"m":36,"l":16,"d":0.5},{"m":37,"l":16,"d":0.3},{"m":38,"l":16,"d":0.25},{"m":39,"l":16,"d":0.02},{"m":40,"l":16,"d":0.38},{"m":41,"l":16,"d":0.2},{"m":42,"l":16,"d":0},{"m":43,"l":16,"d":0.75},{"m":44,"l":16,"d":0.3},{"m":45,"l":16,"d":0.25},{"m":46,"l":16,"d":0.62},{"m":47,"l":16,"d":0.2},{"m":48,"l":16,"d":0.5},{"m":49,"l":16,"d":0.75},
{"m":8.5,"l":17,"d":0.57},{"m":9.5,"l":17,"d":0.4},{"m":10.5,"l":17,"d":0.3},{"m":11.5,"l":17,"d":1},{"m":12.5,"l":17,"d":1},{"m":13.5,"l":17,"d":0.05},{"m":14.5,"l":17,"d":0.05},{"m":15.5,"l":17,"d":0.4},{"m":16.5,"l":17,"d":0.87},{"m":17.5,"l":17,"d":0.93},{"m":18.5,"l":17,"d":0.75},{"m":19.5,"l":17,"d":0.3},{"m":20.5,"l":17,"d":0.25},{"m":21.5,"l":17,"d":0.85},{"m":22.5,"l":17,"d":1},{"m":23.5,"l":17,"d":0.55},{"m":24.5,"l":17,"d":0.95},{"m":25.5,"l":17,"d":0.7},{"m":26.5,"l":17,"d":0.95},{"m":27.5,"l":17,"d":0.65},{"m":28.5,"l":17,"d":0.62},{"m":29.5,"l":17,"d":0.65},{"m":30.5,"l":17,"d":0.4},{"m":31.5,"l":17,"d":0.65},{"m":32.5,"l":17,"d":0.3},{"m":33.5,"l":17,"d":0.75},{"m":34.5,"l":17,"d":1},{"m":35.5,"l":17,"d":0.4},{"m":36.5,"l":17,"d":0.3},{"m":37.5,"l":17,"d":0.25},{"m":38.5,"l":17,"d":0.45},{"m":39.5,"l":17,"d":0.3},{"m":40.5,"l":17,"d":0.15},{"m":41.5,"l":17,"d":0},{"m":42.5,"l":17,"d":0.7},{"m":43.5,"l":17,"d":0.38},{"m":44.5,"l":17,"d":0.42},{"m":45.5,"l":17,"d":0.42},{"m":46.5,"l":17,"d":0.62},{"m":47.5,"l":17,"d":0.2},{"m":48.5,"l":17,"d":1},
{"m":9,"l":18,"d":0.83},{"m":10,"l":18,"d":0.9},{"m":11,"l":18,"d":0.3},{"m":12,"l":18,"d":0.6},{"m":13,"l":18,"d":0.03},{"m":14,"l":18,"d":0.92},{"m":15,"l":18,"d":0.4},{"m":16,"l":18,"d":0.55},{"m":17,"l":18,"d":1},{"m":18,"l":18,"d":0.75},{"m":19,"l":18,"d":1},{"m":20,"l":18,"d":0.3},{"m":21,"l":18,"d":0.28},{"m":22,"l":18,"d":1},{"m":23,"l":18,"d":0.85},{"m":24,"l":18,"d":0.55},{"m":25,"l":18,"d":0.95},{"m":26,"l":18,"d":0.7},{"m":27,"l":18,"d":0.6},{"m":28,"l":18,"d":0.62},{"m":29,"l":18,"d":0.62},{"m":30,"l":18,"d":0.4},{"m":31,"l":18,"d":0.47},{"m":32,"l":18,"d":0.05},{"m":33,"l":18,"d":0.05},{"m":34,"l":18,"d":0.75},{"m":35,"l":18,"d":1},{"m":36,"l":18,"d":0.05},{"m":37,"l":18,"d":0.03},{"m":38,"l":18,"d":0.4},{"m":39,"l":18,"d":0.2},{"m":40,"l":18,"d":0.78},{"m":41,"l":18,"d":0},{"m":42,"l":18,"d":0.67},{"m":43,"l":18,"d":0.4},{"m":44,"l":18,"d":0.7},{"m":45,"l":18,"d":0.7},{"m":46,"l":18,"d":0.25},{"m":47,"l":18,"d":0.62},{"m":48,"l":18,"d":0},
{"m":9.5,"l":19,"d":1},{"m":10.5,"l":19,"d":0.9},{"m":11.5,"l":19,"d":0.25},{"m":12.5,"l":19,"d":1},{"m":13.5,"l":19,"d":0.87},{"m":14.5,"l":19,"d":0.33},{"m":15.5,"l":19,"d":0.55},{"m":16.5,"l":19,"d":0.95},{"m":17.5,"l":19,"d":0.75},{"m":18.5,"l":19,"d":1},{"m":19.5,"l":19,"d":1},{"m":20.5,"l":19,"d":0.3},{"m":21.5,"l":19,"d":0.42},{"m":22.5,"l":19,"d":0.95},{"m":23.5,"l":19,"d":0.85},{"m":24.5,"l":19,"d":0.55},{"m":25.5,"l":19,"d":0.95},{"m":26.5,"l":19,"d":0.62},{"m":27.5,"l":19,"d":0.3},{"m":28.5,"l":19,"d":0.62},{"m":29.5,"l":19,"d":1},{"m":30.5,"l":19,"d":0.05},{"m":31.5,"l":19,"d":0.95},{"m":32.5,"l":19,"d":0.47},{"m":33.5,"l":19,"d":0.03},{"m":34.5,"l":19,"d":0.38},{"m":35.5,"l":19,"d":0.1},{"m":36.5,"l":19,"d":0.03},{"m":37.5,"l":19,"d":0.38},{"m":38.5,"l":19,"d":0.3},{"m":39.5,"l":19,"d":0.28},{"m":40.5,"l":19,"d":0.03},{"m":41.5,"l":19,"d":0.67},{"m":42.5,"l":19,"d":0.42},{"m":43.5,"l":19,"d":0.7},{"m":44.5,"l":19,"d":0.45},{"m":45.5,"l":19,"d":0.25},{"m":46.5,"l":19,"d":0.2},{"m":47.5,"l":19,"d":0.45},
{"m":10,"l":20,"d":1},{"m":11,"l":20,"d":0.47},{"m":12,"l":20,"d":0.47},{"m":13,"l":20,"d":0.78},{"m":14,"l":20,"d":0.45},{"m":15,"l":20,"d":0.38},{"m":16,"l":20,"d":0.95},{"m":17,"l":20,"d":0.62},{"m":18,"l":20,"d":0},{"m":19,"l":20,"d":0.4},{"m":20,"l":20,"d":1},{"m":21,"l":20,"d":0.45},{"m":22,"l":20,"d":0.4},{"m":23,"l":20,"d":0.95},{"m":24,"l":20,"d":0.85},{"m":25,"l":20,"d":0.55},{"m":26,"l":20,"d":0.55},{"m":27,"l":20,"d":0.65},{"m":28,"l":20,"d":0.45},{"m":29,"l":20,"d":0.4},{"m":30,"l":20,"d":1},{"m":31,"l":20,"d":0.55},{"m":32,"l":20,"d":0.87},{"m":33,"l":20,"d":0.47},{"m":34,"l":20,"d":0.3},{"m":35,"l":20,"d":0.45},{"m":36,"l":20,"d":0.85},{"m":37,"l":20,"d":0.6},{"m":38,"l":20,"d":0.28},{"m":39,"l":20,"d":0.3},{"m":40,"l":20,"d":1},{"m":41,"l":20,"d":0.87},{"m":42,"l":20,"d":0.42},{"m":43,"l":20,"d":0.7},{"m":44,"l":20,"d":0.45},{"m":45,"l":20,"d":0.7},{"m":46,"l":20,"d":0.45},{"m":47,"l":20,"d":0.45},
{"m":10.5,"l":21,"d":1},{"m":11.5,"l":21,"d":1},{"m":12.5,"l":21,"d":0.03},{"m":13.5,"l":21,"d":1},{"m":14.5,"l":21,"d":0.1},{"m":15.5,"l":21,"d":1},{"m":16.5,"l":21,"d":0.65},{"m":17.5,"l":21,"d":0.8},{"m":18.5,"l":21,"d":0},{"m":19.5,"l":21,"d":0.42},{"m":20.5,"l":21,"d":1},{"m":21.5,"l":21,"d":0.42},{"m":22.5,"l":21,"d":0.4},{"m":23.5,"l":21,"d":0.95},{"m":24.5,"l":21,"d":0.85},{"m":25.5,"l":21,"d":0.5},{"m":26.5,"l":21,"d":0.2},{"m":27.5,"l":21,"d":0},{"m":28.5,"l":21,"d":0.3},{"m":29.5,"l":21,"d":1},{"m":30.5,"l":21,"d":0.92},{"m":31.5,"l":21,"d":0.75},{"m":32.5,"l":21,"d":0.9},{"m":33.5,"l":21,"d":0},{"m":34.5,"l":21,"d":0.3},{"m":35.5,"l":21,"d":0.3},{"m":36.5,"l":21,"d":1},{"m":37.5,"l":21,"d":0.1},{"m":38.5,"l":21,"d":0.28},{"m":39.5,"l":21,"d":1},{"m":40.5,"l":21,"d":0.1},{"m":41.5,"l":21,"d":0.6},{"m":42.5,"l":21,"d":0.7},{"m":43.5,"l":21,"d":0.45},{"m":44.5,"l":21,"d":0.7},{"m":45.5,"l":21,"d":0.7},{"m":46.5,"l":21,"d":0.62},
{"m":11,"l":22,"d":0.78},{"m":12,"l":22,"d":0.5},{"m":13,"l":22,"d":0.25},{"m":14,"l":22,"d":0.6},{"m":15,"l":22,"d":1},{"m":16,"l":22,"d":0.03},{"m":17,"l":22,"d":0.8},{"m":18,"l":22,"d":0.65},{"m":19,"l":22,"d":0},{"m":20,"l":22,"d":1},{"m":21,"l":22,"d":1},{"m":22,"l":22,"d":0.42},{"m":23,"l":22,"d":0.42},{"m":24,"l":22,"d":0.95},{"m":25,"l":22,"d":0.55},{"m":26,"l":22,"d":0.3},{"m":27,"l":22,"d":0.35},{"m":28,"l":22,"d":1},{"m":29,"l":22,"d":0.42},{"m":30,"l":22,"d":0.9},{"m":31,"l":22,"d":1},{"m":32,"l":22,"d":0.72},{"m":33,"l":22,"d":1},{"m":34,"l":22,"d":0.55},{"m":35,"l":22,"d":0.05},{"m":36,"l":22,"d":0},{"m":37,"l":22,"d":0.4},{"m":38,"l":22,"d":0.03},{"m":39,"l":22,"d":0.72},{"m":40,"l":22,"d":0.05},{"m":41,"l":22,"d":0.5},{"m":42,"l":22,"d":1},{"m":43,"l":22,"d":0.45},{"m":44,"l":22,"d":0.7},{"m":45,"l":22,"d":0.7},{"m":46,"l":22,"d":1},
{"m":11.5,"l":23,"d":0.93},{"m":12.5,"l":23,"d":0.12},{"m":13.5,"l":23,"d":0.3},{"m":14.5,"l":23,"d":0.87},{"m":15.5,"l":23,"d":0.1},{"m":16.5,"l":23,"d":0.45},{"m":17.5,"l":23,"d":0.65},{"m":18.5,"l":23,"d":0.65},{"m":19.5,"l":23,"d":1},{"m":20.5,"l":23,"d":0.8},{"m":21.5,"l":23,"d":1},{"m":22.5,"l":23,"d":0.4},{"m":23.5,"l":23,"d":0.42},{"m":24.5,"l":23,"d":0.6},{"m":25.5,"l":23,"d":0.2},{"m":26.5,"l":23,"d":0.2},{"m":27.5,"l":23,"d":0.1},{"m":28.5,"l":23,"d":1},{"m":29.5,"l":23,"d":0.03},{"m":30.5,"l":23,"d":0.9},{"m":31.5,"l":23,"d":0.87},{"m":32.5,"l":23,"d":0.2},{"m":33.5,"l":23,"d":0.9},{"m":34.5,"l":23,"d":0.6},{"m":35.5,"l":23,"d":0.1},{"m":36.5,"l":23,"d":0.25},{"m":37.5,"l":23,"d":0.1},{"m":38.5,"l":23,"d":0.62},{"m":39.5,"l":23,"d":0.3},{"m":40.5,"l":23,"d":0.5},{"m":41.5,"l":23,"d":0.42},{"m":42.5,"l":23,"d":0.5},{"m":43.5,"l":23,"d":0.7},{"m":44.5,"l":23,"d":0.7},{"m":45.5,"l":23,"d":1},
{"m":12,"l":24,"d":0.75},{"m":13,"l":24,"d":0.5},{"m":14,"l":24,"d":0.75},{"m":15,"l":24,"d":0.6},{"m":16,"l":24,"d":0.85},{"m":17,"l":24,"d":0.45},{"m":18,"l":24,"d":0.65},{"m":19,"l":24,"d":1},{"m":20,"l":24,"d":1},{"m":21,"l":24,"d":0.8},{"m":22,"l":24,"d":1},{"m":23,"l":24,"d":0.42},{"m":24,"l":24,"d":0.65},{"m":25,"l":24,"d":0.2},{"m":26,"l":24,"d":0.2},{"m":27,"l":24,"d":0.85},{"m":28,"l":24,"d":0.47},{"m":29,"l":24,"d":0.5},{"m":30,"l":24,"d":0.3},{"m":31,"l":24,"d":0.87},{"m":32,"l":24,"d":0.45},{"m":33,"l":24,"d":0},{"m":34,"l":24,"d":0.85},{"m":35,"l":24,"d":0.03},{"m":36,"l":24,"d":0.35},{"m":37,"l":24,"d":0.45},{"m":38,"l":24,"d":0.7},{"m":39,"l":24,"d":0.05},{"m":40,"l":24,"d":0.2},{"m":41,"l":24,"d":0.45},{"m":42,"l":24,"d":0.42},{"m":43,"l":24,"d":1},{"m":44,"l":24,"d":0.7},{"m":45,"l":24,"d":1},
{"m":12.5,"l":25,"d":0.67},{"m":13.5,"l":25,"d":0.8},{"m":14.5,"l":25,"d":0.2},{"m":15.5,"l":25,"d":1},{"m":16.5,"l":25,"d":0.72},{"m":17.5,"l":25,"d":0.42},{"m":18.5,"l":25,"d":1},{"m":19.5,"l":25,"d":0.93},{"m":20.5,"l":25,"d":1},{"m":21.5,"l":25,"d":0.8},{"m":22.5,"l":25,"d":1},{"m":23.5,"l":25,"d":0.47},{"m":24.5,"l":25,"d":1},{"m":25.5,"l":25,"d":0.42},{"m":26.5,"l":25,"d":0.1},{"m":27.5,"l":25,"d":0.62},{"m":28.5,"l":25,"d":0},{"m":29.5,"l":25,"d":1},{"m":30.5,"l":25,"d":0.6},{"m":31.5,"l":25,"d":0.42},{"m":32.5,"l":25,"d":0.55},{"m":33.5,"l":25,"d":0.25},{"m":34.5,"l":25,"d":1},{"m":35.5,"l":25,"d":0.1},{"m":36.5,"l":25,"d":0.45},{"m":37.5,"l":25,"d":0.55},{"m":38.5,"l":25,"d":1},{"m":39.5,"l":25,"d":0},{"m":40.5,"l":25,"d":0.25},{"m":41.5,"l":25,"d":0.38},{"m":42.5,"l":25,"d":0.4},{"m":43.5,"l":25,"d":1},{"m":44.5,"l":25,"d":1},
{"m":13,"l":26,"d":0.9},{"m":14,"l":26,"d":0.4},{"m":15,"l":26,"d":0.2},{"m":16,"l":26,"d":1},{"m":17,"l":26,"d":0.8},{"m":18,"l":26,"d":1},{"m":19,"l":26,"d":0.93},{"m":20,"l":26,"d":0.93},{"m":21,"l":26,"d":1},{"m":22,"l":26,"d":0.78},{"m":23,"l":26,"d":0.45},{"m":24,"l":26,"d":0.3},{"m":25,"l":26,"d":0.65},{"m":26,"l":26,"d":0.3},{"m":27,"l":26,"d":0.35},{"m":28,"l":26,"d":0.1},{"m":29,"l":26,"d":0.1},{"m":30,"l":26,"d":0.6},{"m":31,"l":26,"d":0},{"m":32,"l":26,"d":0.55},{"m":33,"l":26,"d":1},{"m":34,"l":26,"d":0.25},{"m":35,"l":26,"d":1},{"m":36,"l":26,"d":0.03},{"m":37,"l":26,"d":0.6},{"m":38,"l":26,"d":0.45},{"m":39,"l":26,"d":0.45},{"m":40,"l":26,"d":0.05},{"m":41,"l":26,"d":0.42},{"m":42,"l":26,"d":0.4},{"m":43,"l":26,"d":0.42},{"m":44,"l":26,"d":1},
{"m":13.5,"l":27,"d":0.7},{"m":14.5,"l":27,"d":0.1},{"m":15.5,"l":27,"d":0.47},{"m":16.5,"l":27,"d":1},{"m":17.5,"l":27,"d":0.48},{"m":18.5,"l":27,"d":0.75},{"m":19.5,"l":27,"d":0.93},{"m":20.5,"l":27,"d":0.93},{"m":21.5,"l":27,"d":1},{"m":22.5,"l":27,"d":0.55},{"m":23.5,"l":27,"d":0.42},{"m":24.5,"l":27,"d":0.6},{"m":25.5,"l":27,"d":0.35},{"m":26.5,"l":27,"d":0.42},{"m":27.5,"l":27,"d":0.05},{"m":28.5,"l":27,"d":1},{"m":29.5,"l":27,"d":0.75},{"m":30.5,"l":27,"d":1},{"m":31.5,"l":27,"d":0.5},{"m":32.5,"l":27,"d":1},{"m":33.5,"l":27,"d":1},{"m":34.5,"l":27,"d":0.35},{"m":35.5,"l":27,"d":1},{"m":36.5,"l":27,"d":0.5},{"m":37.5,"l":27,"d":0.45},{"m":38.5,"l":27,"d":0.55},{"m":39.5,"l":27,"d":1},{"m":40.5,"l":27,"d":0.3},{"m":41.5,"l":27,"d":0.42},{"m":42.5,"l":27,"d":0.42},{"m":43.5,"l":27,"d":1},
{"m":14,"l":28,"d":0.65},{"m":15,"l":28,"d":0.2},{"m":16,"l":28,"d":0.48},{"m":17,"l":28,"d":1},{"m":18,"l":28,"d":0.55},{"m":19,"l":28,"d":0.75},{"m":20,"l":28,"d":0.93},{"m":21,"l":28,"d":0.93},{"m":22,"l":28,"d":0.55},{"m":23,"l":28,"d":0.25},{"m":24,"l":28,"d":0.35},{"m":25,"l":28,"d":0.3},{"m":26,"l":28,"d":0.45},{"m":27,"l":28,"d":0},{"m":28,"l":28,"d":0.2},{"m":29,"l":28,"d":0.55},{"m":30,"l":28,"d":0.45},{"m":31,"l":28,"d":0.5},{"m":32,"l":28,"d":0.6},{"m":33,"l":28,"d":1},{"m":34,"l":28,"d":0.4},{"m":35,"l":28,"d":0.35},{"m":36,"l":28,"d":1},{"m":37,"l":28,"d":0.75},{"m":38,"l":28,"d":0.1},{"m":39,"l":28,"d":0.45},{"m":40,"l":28,"d":1},{"m":41,"l":28,"d":0.03},{"m":42,"l":28,"d":0.42},{"m":43,"l":28,"d":1},
{"m":14.5,"l":29,"d":0.65},{"m":15.5,"l":29,"d":0.2},{"m":16.5,"l":29,"d":0.3},{"m":17.5,"l":29,"d":1},{"m":18.5,"l":29,"d":0.55},{"m":19.5,"l":29,"d":0.75},{"m":20.5,"l":29,"d":0.93},{"m":21.5,"l":29,"d":0.45},{"m":22.5,"l":29,"d":0.2},{"m":23.5,"l":29,"d":0.3},{"m":24.5,"l":29,"d":0},{"m":25.5,"l":29,"d":0.5},{"m":26.5,"l":29,"d":1},{"m":27.5,"l":29,"d":0.3},{"m":28.5,"l":29,"d":0.65},{"m":29.5,"l":29,"d":0.03},{"m":30.5,"l":29,"d":0.55},{"m":31.5,"l":29,"d":0.05},{"m":32.5,"l":29,"d":0.05},{"m":33.5,"l":29,"d":0.3},{"m":34.5,"l":29,"d":0.4},{"m":35.5,"l":29,"d":0.92},{"m":36.5,"l":29,"d":1},{"m":37.5,"l":29,"d":0.32},{"m":38.5,"l":29,"d":0.3},{"m":39.5,"l":29,"d":0.5},{"m":40.5,"l":29,"d":1},{"m":41.5,"l":29,"d":0.03},{"m":42.5,"l":29,"d":1},
{"m":15,"l":30,"d":0.65},{"m":16,"l":30,"d":0.85},{"m":17,"l":30,"d":0.08},{"m":18,"l":30,"d":1},{"m":19,"l":30,"d":0.55},{"m":20,"l":30,"d":0.75},{"m":21,"l":30,"d":0.47},{"m":22,"l":30,"d":0.2},{"m":23,"l":30,"d":0.3},{"m":24,"l":30,"d":0.05},{"m":25,"l":30,"d":1},{"m":26,"l":30,"d":0.35},{"m":27,"l":30,"d":0.3},{"m":28,"l":30,"d":0.6},{"m":29,"l":30,"d":0},{"m":30,"l":30,"d":0.3},{"m":31,"l":30,"d":0.03},{"m":32,"l":30,"d":1},{"m":33,"l":30,"d":0.3},{"m":34,"l":30,"d":0.78},{"m":35,"l":30,"d":1},{"m":36,"l":30,"d":0.9},{"m":37,"l":30,"d":0.55},{"m":38,"l":30,"d":0.9},{"m":39,"l":30,"d":0.1},{"m":40,"l":30,"d":0.45},{"m":41,"l":30,"d":1},{"m":42,"l":30,"d":0.85},
{"m":15.5,"l":31,"d":1},{"m":16.5,"l":31,"d":0.05},{"m":17.5,"l":31,"d":0.05},{"m":18.5,"l":31,"d":1},{"m":19.5,"l":31,"d":0.5},{"m":20.5,"l":31,"d":0.47},{"m":21.5,"l":31,"d":0.1},{"m":22.5,"l":31,"d":0.03},{"m":23.5,"l":31,"d":0.3},{"m":24.5,"l":31,"d":0.85},{"m":25.5,"l":31,"d":0.75},{"m":26.5,"l":31,"d":0.03},{"m":27.5,"l":31,"d":1},{"m":28.5,"l":31,"d":0.05},{"m":29.5,"l":31,"d":0.55},{"m":30.5,"l":31,"d":0.45},{"m":31.5,"l":31,"d":0.3},{"m":32.5,"l":31,"d":0.42},{"m":33.5,"l":31,"d":0.3},{"m":34.5,"l":31,"d":1},{"m":35.5,"l":31,"d":0.42},{"m":36.5,"l":31,"d":0.85},{"m":37.5,"l":31,"d":0.03},{"m":38.5,"l":31,"d":0.78},{"m":39.5,"l":31,"d":0.45},{"m":40.5,"l":31,"d":0.45},{"m":41.5,"l":31,"d":0.8},
{"m":16,"l":32,"d":0.68},{"m":17,"l":32,"d":0.05},{"m":18,"l":32,"d":0.03},{"m":19,"l":32,"d":1},{"m":20,"l":32,"d":0.85},{"m":21,"l":32,"d":0.08},{"m":22,"l":32,"d":0},{"m":23,"l":32,"d":0.3},{"m":24,"l":32,"d":0.4},{"m":25,"l":32,"d":0.75},{"m":26,"l":32,"d":0.5},{"m":27,"l":32,"d":0.6},{"m":28,"l":32,"d":0.3},{"m":29,"l":32,"d":0.55},{"m":30,"l":32,"d":0.62},{"m":31,"l":32,"d":0},{"m":32,"l":32,"d":0.3},{"m":33,"l":32,"d":0.42},{"m":34,"l":32,"d":0.42},{"m":35,"l":32,"d":0.38},{"m":36,"l":32,"d":0.42},{"m":37,"l":32,"d":1},{"m":38,"l":32,"d":0.1},{"m":39,"l":32,"d":0.9},{"m":40,"l":32,"d":0.45},{"m":41,"l":32,"d":0.9},
{"m":16.5,"l":33,"d":0.68},{"m":17.5,"l":33,"d":0.05},{"m":18.5,"l":33,"d":0.08},{"m":19.5,"l":33,"d":0.42},{"m":20.5,"l":33,"d":0.3},{"m":21.5,"l":33,"d":0.6},{"m":22.5,"l":33,"d":0.05},{"m":23.5,"l":33,"d":0.03},{"m":24.5,"l":33,"d":0.38},{"m":25.5,"l":33,"d":0.65},{"m":26.5,"l":33,"d":0.92},{"m":27.5,"l":33,"d":0.1},{"m":28.5,"l":33,"d":0.3},{"m":29.5,"l":33,"d":0.62},{"m":30.5,"l":33,"d":0.03},{"m":31.5,"l":33,"d":0.35},{"m":32.5,"l":33,"d":0.1},{"m":33.5,"l":33,"d":0.42},{"m":34.5,"l":33,"d":0.3},{"m":35.5,"l":33,"d":0.42},{"m":36.5,"l":33,"d":0.95},{"m":37.5,"l":33,"d":1},{"m":38.5,"l":33,"d":0.03},{"m":39.5,"l":33,"d":0.9},{"m":40.5,"l":33,"d":1},
{"m":17,"l":34,"d":0.68},{"m":18,"l":34,"d":0.1},{"m":19,"l":34,"d":0.2},{"m":20,"l":34,"d":0.3},{"m":21,"l":34,"d":0.3},{"m":22,"l":34,"d":0.15},{"m":23,"l":34,"d":0.5},{"m":24,"l":34,"d":0.75},{"m":25,"l":34,"d":0.3},{"m":26,"l":34,"d":0.85},{"m":27,"l":34,"d":0.1},{"m":28,"l":34,"d":0.3},{"m":29,"l":34,"d":1},{"m":30,"l":34,"d":0.05},{"m":31,"l":34,"d":0.3},{"m":32,"l":34,"d":0.1},{"m":33,"l":34,"d":0.05},{"m":34,"l":34,"d":0.35},{"m":35,"l":34,"d":0.42},{"m":36,"l":34,"d":0.95},{"m":37,"l":34,"d":1},{"m":38,"l":34,"d":1},{"m":39,"l":34,"d":0.03},{"m":40,"l":34,"d":1},
{"m":17.5,"l":35,"d":0.68},{"m":18.5,"l":35,"d":0.05},{"m":19.5,"l":35,"d":0.2},{"m":20.5,"l":35,"d":0.45},{"m":21.5,"l":35,"d":1},{"m":22.5,"l":35,"d":0.48},{"m":23.5,"l":35,"d":0.47},{"m":24.5,"l":35,"d":0.75},{"m":25.5,"l":35,"d":0.1},{"m":26.5,"l":35,"d":0.03},{"m":27.5,"l":35,"d":1},{"m":28.5,"l":35,"d":0.95},{"m":29.5,"l":35,"d":0},{"m":30.5,"l":35,"d":0.1},{"m":31.5,"l":35,"d":0.05},{"m":32.5,"l":35,"d":1},{"m":33.5,"l":35,"d":0.8},{"m":34.5,"l":35,"d":0.35},{"m":35.5,"l":35,"d":1},{"m":36.5,"l":35,"d":1},{"m":37.5,"l":35,"d":1},{"m":38.5,"l":35,"d":1},{"m":39.5,"l":35,"d":1},
{"m":18,"l":36,"d":0.75},{"m":19,"l":36,"d":0},{"m":20,"l":36,"d":0.3},{"m":21,"l":36,"d":0.1},{"m":22,"l":36,"d":1},{"m":23,"l":36,"d":0.42},{"m":24,"l":36,"d":0.8},{"m":25,"l":36,"d":0.75},{"m":26,"l":36,"d":0.45},{"m":27,"l":36,"d":0.95},{"m":28,"l":36,"d":0.75},{"m":29,"l":36,"d":0.03},{"m":30,"l":36,"d":0.3},{"m":31,"l":36,"d":0.08},{"m":32,"l":36,"d":0.3},{"m":33,"l":36,"d":0.5},{"m":34,"l":36,"d":0.38},{"m":35,"l":36,"d":0.35},{"m":36,"l":36,"d":1},{"m":37,"l":36,"d":1},{"m":38,"l":36,"d":1},{"m":39,"l":36,"d":0.7},
{"m":18.5,"l":37,"d":0.03},{"m":19.5,"l":37,"d":0.65},{"m":20.5,"l":37,"d":0.08},{"m":21.5,"l":37,"d":1},{"m":22.5,"l":37,"d":0.05},{"m":23.5,"l":37,"d":0},{"m":24.5,"l":37,"d":0.78},{"m":25.5,"l":37,"d":0.25},{"m":26.5,"l":37,"d":1},{"m":27.5,"l":37,"d":0.6},{"m":28.5,"l":37,"d":0.05},{"m":29.5,"l":37,"d":0.3},{"m":30.5,"l":37,"d":0.47},{"m":31.5,"l":37,"d":0.15},{"m":32.5,"l":37,"d":0.87},{"m":33.5,"l":37,"d":0.35},{"m":34.5,"l":37,"d":0.92},{"m":35.5,"l":37,"d":0.35},{"m":36.5,"l":37,"d":1},{"m":37.5,"l":37,"d":1},{"m":38.5,"l":37,"d":1},
{"m":19,"l":38,"d":0.78},{"m":20,"l":38,"d":0.7},{"m":21,"l":38,"d":0.08},{"m":22,"l":38,"d":0.6},{"m":23,"l":38,"d":1},{"m":24,"l":38,"d":0.65},{"m":25,"l":38,"d":0.1},{"m":26,"l":38,"d":0.2},{"m":27,"l":38,"d":0.05},{"m":28,"l":38,"d":0.05},{"m":29,"l":38,"d":0.25},{"m":30,"l":38,"d":0.45},{"m":31,"l":38,"d":0.1},{"m":32,"l":38,"d":0.9},{"m":33,"l":38,"d":0.42},{"m":34,"l":38,"d":0.65},{"m":35,"l":38,"d":1},{"m":36,"l":38,"d":0.4},{"m":37,"l":38,"d":1},{"m":38,"l":38,"d":1},
{"m":19.5,"l":39,"d":0.42},{"m":20.5,"l":39,"d":0.75},{"m":21.5,"l":39,"d":0.28},{"m":22.5,"l":39,"d":0.55},{"m":23.5,"l":39,"d":0.75},{"m":24.5,"l":39,"d":0.1},{"m":25.5,"l":39,"d":0.05},{"m":26.5,"l":39,"d":0.35},{"m":27.5,"l":39,"d":0.47},{"m":28.5,"l":39,"d":0.25},{"m":29.5,"l":39,"d":0.08},{"m":30.5,"l":39,"d":0.05},{"m":31.5,"l":39,"d":0.35},{"m":32.5,"l":39,"d":0.42},{"m":33.5,"l":39,"d":0.9},{"m":34.5,"l":39,"d":1},{"m":35.5,"l":39,"d":0.93},{"m":36.5,"l":39,"d":0.4},{"m":37.5,"l":39,"d":1},
{"m":20,"l":40,"d":0.47},{"m":21,"l":40,"d":0.45},{"m":22,"l":40,"d":0.45},{"m":23,"l":40,"d":0.65},{"m":24,"l":40,"d":0.3},{"m":25,"l":40,"d":0.1},{"m":26,"l":40,"d":0.42},{"m":27,"l":40,"d":0.2},{"m":28,"l":40,"d":0},{"m":29,"l":40,"d":0.1},{"m":30,"l":40,"d":0.5},{"m":31,"l":40,"d":0.62},{"m":32,"l":40,"d":0.25},{"m":33,"l":40,"d":1},{"m":34,"l":40,"d":1},{"m":35,"l":40,"d":0.65},{"m":36,"l":40,"d":0.93},{"m":37,"l":40,"d":1},
{"m":20.5,"l":41,"d":0.87},{"m":21.5,"l":41,"d":0.55},{"m":22.5,"l":41,"d":0.3},{"m":23.5,"l":41,"d":0.2},{"m":24.5,"l":41,"d":0.35},{"m":25.5,"l":41,"d":0.95},{"m":26.5,"l":41,"d":0.3},{"m":27.5,"l":41,"d":0.3},{"m":28.5,"l":41,"d":0.45},{"m":29.5,"l":41,"d":0.75},{"m":30.5,"l":41,"d":0.9},{"m":31.5,"l":41,"d":0.25},{"m":32.5,"l":41,"d":0.95},{"m":33.5,"l":41,"d":1},{"m":34.5,"l":41,"d":0.92},{"m":35.5,"l":41,"d":0.65},{"m":36.5,"l":41,"d":1},
{"m":21,"l":42,"d":0.85},{"m":22,"l":42,"d":0.45},{"m":23,"l":42,"d":0.03},{"m":24,"l":42,"d":0.95},{"m":25,"l":42,"d":0.5},{"m":26,"l":42,"d":0.1},{"m":27,"l":42,"d":0.33},{"m":28,"l":42,"d":0.3},{"m":29,"l":42,"d":0.55},{"m":30,"l":42,"d":0.78},{"m":31,"l":42,"d":0.1},{"m":32,"l":42,"d":0.95},{"m":33,"l":42,"d":0.5},{"m":34,"l":42,"d":1},{"m":35,"l":42,"d":0.92},{"m":36,"l":42,"d":1},
{"m":21.5,"l":43,"d":0.92},{"m":22.5,"l":43,"d":0.62},{"m":23.5,"l":43,"d":0.1},{"m":24.5,"l":43,"d":0.65},{"m":25.5,"l":43,"d":1},{"m":26.5,"l":43,"d":0.15},{"m":27.5,"l":43,"d":0.42},{"m":28.5,"l":43,"d":0.9},{"m":29.5,"l":43,"d":0.35},{"m":30.5,"l":43,"d":0.2},{"m":31.5,"l":43,"d":1},{"m":32.5,"l":43,"d":0.5},{"m":33.5,"l":43,"d":1},{"m":34.5,"l":43,"d":1},{"m":35.5,"l":43,"d":1},
{"m":22,"l":44,"d":1},{"m":23,"l":44,"d":0.3},{"m":24,"l":44,"d":0.1},{"m":25,"l":44,"d":0.05},{"m":26,"l":44,"d":0.15},{"m":27,"l":44,"d":0.5},{"m":28,"l":44,"d":0.92},{"m":29,"l":44,"d":0.92},{"m":30,"l":44,"d":0.62},{"m":31,"l":44,"d":0.3},{"m":32,"l":44,"d":1},{"m":33,"l":44,"d":0.95},{"m":34,"l":44,"d":1},{"m":35,"l":44,"d":1},
{"m":22.5,"l":45,"d":0.68},{"m":23.5,"l":45,"d":0.05},{"m":24.5,"l":45,"d":0.05},{"m":25.5,"l":45,"d":0.2},{"m":26.5,"l":45,"d":0.2},{"m":27.5,"l":45,"d":0},{"m":28.5,"l":45,"d":0.85},{"m":29.5,"l":45,"d":0.55},{"m":30.5,"l":45,"d":1},{"m":31.5,"l":45,"d":0.05},{"m":32.5,"l":45,"d":1},{"m":33.5,"l":45,"d":0.95},{"m":34.5,"l":45,"d":1},
{"m":23,"l":46,"d":0.8},{"m":24,"l":46,"d":0.68},{"m":25,"l":46,"d":0.2},{"m":26,"l":46,"d":0.05},{"m":27,"l":46,"d":1},{"m":28,"l":46,"d":0.9},{"m":29,"l":46,"d":0.5},{"m":30,"l":46,"d":1},{"m":31,"l":46,"d":1},{"m":32,"l":46,"d":0.25},{"m":33,"l":46,"d":1},{"m":34,"l":46,"d":1},
{"m":23.5,"l":47,"d":1},{"m":24.5,"l":47,"d":0.03},{"m":25.5,"l":47,"d":0.1},{"m":26.5,"l":47,"d":0.68},{"m":27.5,"l":47,"d":0.42},{"m":28.5,"l":47,"d":0.42},{"m":29.5,"l":47,"d":1},{"m":30.5,"l":47,"d":1},{"m":31.5,"l":47,"d":1},{"m":32.5,"l":47,"d":0.25},{"m":33.5,"l":47,"d":1},
{"m":24,"l":48,"d":0.85},{"m":25,"l":48,"d":0.03},{"m":26,"l":48,"d":0.47},{"m":27,"l":48,"d":0.92},{"m":28,"l":48,"d":0.15},{"m":29,"l":48,"d":1},{"m":30,"l":48,"d":0.93},{"m":31,"l":48,"d":1},{"m":32,"l":48,"d":1},{"m":33,"l":48,"d":1},
{"m":24.5,"l":49,"d":0.85},{"m":25.5,"l":49,"d":0.85},{"m":26.5,"l":49,"d":0.47},{"m":27.5,"l":49,"d":0.2},{"m":28.5,"l":49,"d":0.58},{"m":29.5,"l":49,"d":1},{"m":30.5,"l":49,"d":0.97},{"m":31.5,"l":49,"d":1},{"m":32.5,"l":49,"d":1},
{"m":25,"l":50,"d":1},{"m":26,"l":50,"d":0.87},{"m":27,"l":50,"d":0.1},{"m":28,"l":50,"d":1},{"m":29,"l":50,"d":1},{"m":30,"l":50,"d":1},{"m":31,"l":50,"d":0.97},{"m":32,"l":50,"d":1},
{"m":25.5,"l":51,"d":1},{"m":26.5,"l":51,"d":0.03},{"m":27.5,"l":51,"d":0.2},{"m":28.5,"l":51,"d":1},{"m":29.5,"l":51,"d":0.6},{"m":30.5,"l":51,"d":1},{"m":31.5,"l":51,"d":1},
{"m":26,"l":52,"d":0.5},{"m":27,"l":52,"d":0.78},{"m":28,"l":52,"d":0.4},{"m":29,"l":52,"d":1},{"m":30,"l":52,"d":0.6},{"m":31,"l":52,"d":1},
{"m":26.5,"l":53,"d":1},{"m":27.5,"l":53,"d":0.75},{"m":28.5,"l":53,"d":0.2},{"m":29.5,"l":53,"d":1},{"m":30.5,"l":53,"d":1},
{"m":27,"l":54,"d":1},{"m":28,"l":54,"d":0.8},{"m":29,"l":54,"d":0.2},{"m":30,"l":54,"d":1},
{"m":27.5,"l":55,"d":1},{"m":28.5,"l":55,"d":0.8},{"m":29.5,"l":55,"d":0.62},
{"m":28,"l":56,"d":1},{"m":29,"l":56,"d":0.85},
{"m":28.5,"l":57,"d":1}
]},
"layer":[
{"data":{"name":"strip"},"mark":{"type":"rect","color":"#A6CEE3"},"encoding":{"x":{"field":"a","type":"quantitative","scale":{"domain":[-5.793,60.902],"nice":false,"zero":false},"axis":null},"x2":{"field":"b"},"y":{"datum":-13.51,"type":"quantitative","scale":{"domain":[-33.8,64.83],"reverse":true,"nice":false,"zero":false},"axis":null},"y2":{"datum":-8.86}}},
{"data":{"name":"snps"},"mark":{"type":"rule","strokeWidth":2.5},"encoding":{"x":{"field":"p","type":"quantitative","scale":{"domain":[-5.793,60.902],"nice":false,"zero":false},"axis":null},"y":{"datum":-13.51,"type":"quantitative","scale":{"domain":[-33.8,64.83],"reverse":true,"nice":false,"zero":false},"axis":null},"y2":{"datum":-8.86},"color":{"field":"t","type":"nominal","scale":{"domain":["p","g"],"range":["#DE7FB8","#808080"]},"legend":null}}},
{"data":{"name":"snps"},"mark":{"type":"rule","strokeWidth":2.5,"color":"#008000"},"encoding":{"x":{"field":"p","type":"quantitative","scale":{"domain":[-5.793,60.902],"nice":false,"zero":false},"axis":null},"x2":{"field":"k"},"y":{"datum":-8.86,"type":"quantitative","scale":{"domain":[-33.8,64.83],"reverse":true,"nice":false,"zero":false},"axis":null},"y2":{"datum":-1.0}}},
{"data":{"name":"cells"},"mark":{"type":"point","shape":"diamond","filled":true,"size":3610,"opacity":1},"encoding":{"x":{"field":"m","type":"quantitative","scale":{"domain":[-5.793,60.902],"nice":false,"zero":false},"axis":null},"y":{"field":"l","type":"quantitative","scale":{"domain":[-33.8,64.83],"reverse":true,"nice":false,"zero":false},"axis":null},"fill":{"field":"d","type":"quantitative","scale":{"domain":[0,0.5,0.66,1],"range":["#FFFFFF","#F1EA47","#F6A033","#FF0000"],"interpolate":"rgb"},"legend":null}}},
{"data":{"name":"blocks"},"mark":{"type":"line","color":"black","strokeWidth":2.8,"clip":false},"encoding":{"x":{"field":"x","type":"quantitative","scale":{"domain":[-5.793,60.902],"nice":false,"zero":false},"axis":null},"y":{"field":"y","type":"quantitative","scale":{"domain":[-33.8,64.83],"reverse":true,"nice":false,"zero":false},"axis":null},"detail":{"field":"b"},"order":{"field":"o","type":"quantitative"}}},
{"data":{"name":"key"},"mark":{"type":"rect"},"encoding":{"x":{"field":"a","type":"quantitative","scale":{"domain":[-5.793,60.902],"nice":false,"zero":false},"axis":null},"x2":{"field":"b"},"y":{"datum":56.07,"type":"quantitative","scale":{"domain":[-33.8,64.83],"reverse":true,"nice":false,"zero":false},"axis":null},"y2":{"datum":59.08},"fill":{"field":"d","type":"quantitative","scale":{"domain":[0,0.5,0.66,1],"range":["#FFFFFF","#F1EA47","#F6A033","#FF0000"],"interpolate":"rgb"},"legend":null}}},
{"data":{"values":[{"a":38.64,"b":58.51}]},"mark":{"type":"rect","fillOpacity":0,"stroke":"black","strokeWidth":3},"encoding":{"x":{"field":"a","type":"quantitative","scale":{"domain":[-5.793,60.902],"nice":false,"zero":false},"axis":null},"x2":{"field":"b"},"y":{"datum":56.07,"type":"quantitative","scale":{"domain":[-33.8,64.83],"reverse":true,"nice":false,"zero":false},"axis":null},"y2":{"datum":59.08}}},
{"data":{"name":"small"},"mark":{"type":"text","font":"Liberation Sans","fontSize":43,"align":"center","baseline":"alphabetic","color":"black"},"encoding":{"x":{"field":"x","type":"quantitative","scale":{"domain":[-5.793,60.902],"nice":false,"zero":false},"axis":null},"y":{"field":"y","type":"quantitative","scale":{"domain":[-33.8,64.83],"reverse":true,"nice":false,"zero":false},"axis":null},"text":{"field":"t"}}},
{"data":{"name":"big"},"mark":{"type":"text","font":"Liberation Sans","fontSize":86,"align":"center","baseline":"alphabetic","color":"black"},"encoding":{"x":{"field":"x","type":"quantitative","scale":{"domain":[-5.793,60.902],"nice":false,"zero":false},"axis":null},"y":{"field":"y","type":"quantitative","scale":{"domain":[-33.8,64.83],"reverse":true,"nice":false,"zero":false},"axis":null},"text":{"field":"t"}}}
]}
